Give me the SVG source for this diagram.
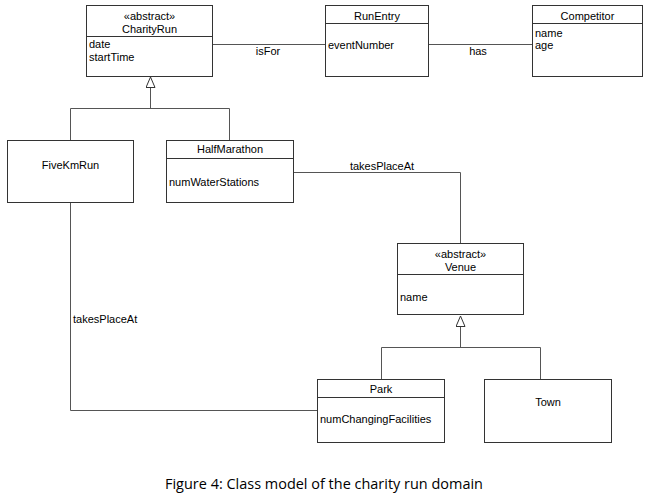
<svg xmlns="http://www.w3.org/2000/svg" width="646" height="498" viewBox="0 0 646 498">
<style>
.box{fill:#fff;stroke:#333;stroke-width:1}
.ln{fill:none;stroke:#555;stroke-width:1}
.t{font-family:"Liberation Sans",Arial,sans-serif;font-size:11px;fill:#000}
.c{text-anchor:middle}
.cap{font-family:"Open Sans","Noto Sans",sans-serif;font-size:15px;fill:#000;text-anchor:middle}
</style>
<defs>
<marker id="gen" viewBox="0 0 12 10" refX="0" refY="5" markerWidth="12" markerHeight="10" markerUnits="userSpaceOnUse" orient="auto">
<path d="M0.5,0.5 L11,5 L0.5,9.5 Z" fill="#fff" stroke="#333" stroke-width="1"/>
</marker>
</defs>
<rect width="646" height="498" fill="#fff"/>
<g id="connectors">
<path class="ln" d="M213,44.5 H325"/>
<path class="ln" d="M428,44.5 H532"/>
<path class="ln" d="M70.5,140 V108.5 H229.5 V140"/>
<path class="ln" d="M150.5,108.5 V88" marker-end="url(#gen)"/>
<path class="ln" d="M293,172.5 H460.5 V243"/>
<path class="ln" d="M381.5,379 V347.5 H540.5 V379"/>
<path class="ln" d="M460.5,347.5 V327" marker-end="url(#gen)"/>
<path class="ln" d="M70.5,202 V410.5 H317"/>
<text class="t c" x="268" y="55">isFor</text>
<text class="t c" x="478" y="55">has</text>
<text class="t c" x="382" y="170">takesPlaceAt</text>
<text class="t" x="73" y="323">takesPlaceAt</text>
</g>
<g id="CharityRun">
<rect class="box" x="86.5" y="5.5" width="126" height="71"/>
<line class="box" x1="86.5" y1="36.5" x2="212.5" y2="36.5"/>
<text class="t c" x="149.5" y="20">«abstract»</text>
<text class="t c" x="149.5" y="33">CharityRun</text>
<text class="t" x="89" y="48">date</text>
<text class="t" x="89" y="61">startTime</text>
</g>
<g id="RunEntry">
<rect class="box" x="325.5" y="5.5" width="103" height="71"/>
<line class="box" x1="325.5" y1="23.5" x2="428.5" y2="23.5"/>
<text class="t c" x="377" y="20">RunEntry</text>
<text class="t" x="328" y="49">eventNumber</text>
</g>
<g id="Competitor">
<rect class="box" x="532.5" y="5.5" width="110" height="71"/>
<line class="box" x1="532.5" y1="23.5" x2="642.5" y2="23.5"/>
<text class="t c" x="587.5" y="20">Competitor</text>
<text class="t" x="535" y="37">name</text>
<text class="t" x="535" y="49">age</text>
</g>
<g id="FiveKmRun">
<rect class="box" x="7.5" y="140.5" width="126" height="62"/>
<text class="t c" x="70.5" y="169">FiveKmRun</text>
</g>
<g id="HalfMarathon">
<rect class="box" x="166.5" y="140.5" width="127" height="62"/>
<line class="box" x1="166.5" y1="158.5" x2="293.5" y2="158.5"/>
<text class="t c" x="230" y="153">HalfMarathon</text>
<text class="t" x="169" y="186">numWaterStations</text>
</g>
<g id="Venue">
<rect class="box" x="397.5" y="243.5" width="126" height="71"/>
<line class="box" x1="397.5" y1="274.5" x2="523.5" y2="274.5"/>
<text class="t c" x="460.5" y="258">«abstract»</text>
<text class="t c" x="460.5" y="271">Venue</text>
<text class="t" x="400" y="301">name</text>
</g>
<g id="Park">
<rect class="box" x="317.5" y="379.5" width="127" height="63"/>
<line class="box" x1="317.5" y1="397.5" x2="444.5" y2="397.5"/>
<text class="t c" x="381" y="393">Park</text>
<text class="t" x="320" y="423">numChangingFacilities</text>
</g>
<g id="Town">
<rect class="box" x="484.5" y="379.5" width="127" height="63"/>
<text class="t c" x="548" y="406">Town</text>
</g>
<text class="cap" x="324" y="489" textLength="318" lengthAdjust="spacingAndGlyphs">Figure 4: Class model of the charity run domain</text>
</svg>
